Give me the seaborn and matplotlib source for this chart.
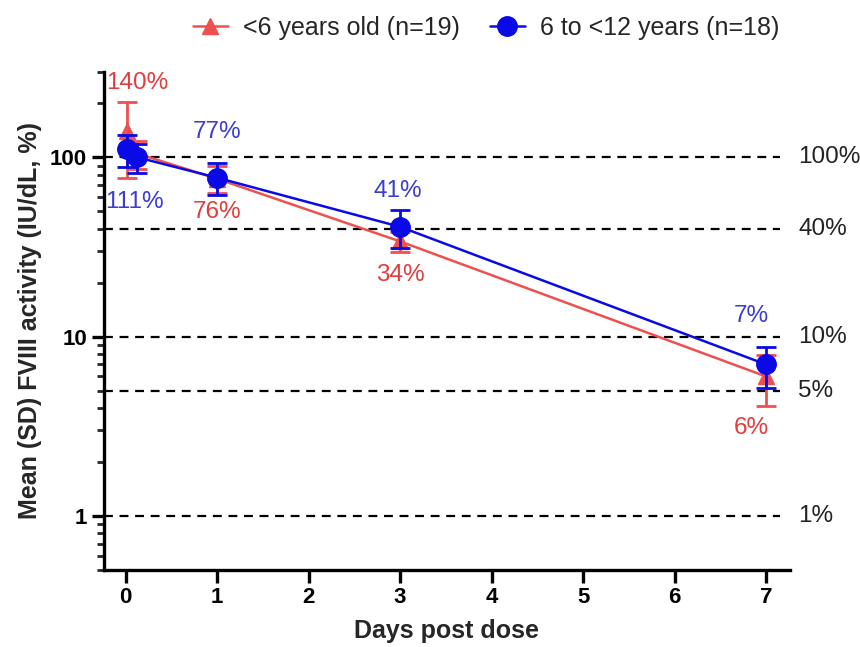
import numpy as np
import pandas as pd
import matplotlib
matplotlib.use("Agg")
import matplotlib.pyplot as plt
import matplotlib.ticker as mticker
from matplotlib.lines import Line2D
import seaborn as sns

# Sampling times (days post dose)
days = [0.02, 0.13, 1, 3, 7]

# <6 years old (n=19): mean and SD of FVIII activity (IU/dL, %)
young_mean = [140, 105, 76, 34, 6]
young_sd = [63, 19, 13, 4.5, 1.9]

# 6 to <12 years (n=18)
older_mean = [111, 100, 77, 41, 7]
older_sd = [23, 18, 15.5, 9.6, 1.8]

group_names = ["<6 years old (n=19)", "6 to <12 years (n=18)"]

# Reference activity levels drawn as dashed lines
ref_levels = [100, 40, 10, 5, 1]
ref_labels = ["100%", "40%", "10%", "5%", "1%"]

# Which points get a value label: (group index, point index)
labelled = [(0, 0), (0, 2), (0, 3), (0, 4), (1, 0), (1, 2), (1, 3), (1, 4)]

x_ticks = [0, 1, 2, 3, 4, 5, 6, 7]

RED = "#EE5050"
BLUE = "#0A0AE6"
RED_TXT = "#E23C3C"
BLUE_TXT = "#3C3CD2"

sns.set_theme(style="ticks")
plt.rcParams["font.family"] = ["Liberation Sans", "DejaVu Sans"]

df = pd.DataFrame({
    "day": days * 2,
    "activity": young_mean + older_mean,
    "sd": young_sd + older_sd,
    "group": [group_names[0]] * len(days) + [group_names[1]] * len(days),
})

fig = plt.figure(figsize=(8.6, 6.47), dpi=100)
ax = fig.add_axes([0.1205, 0.119, 0.798, 0.770])

ax.set_yscale("log")
ax.set_ylim(0.5, 300)
ax.set_xlim(-0.24, 7.26)

# dashed reference lines
ax.hlines(ref_levels, -0.24, 7.15, colors="black", linestyles=(0, (4, 3)),
          linewidth=1.6, zorder=1)
for lvl, lab in zip(ref_levels, ref_labels):
    ax.text(7.35, lvl, lab, fontsize=17.5, color="#222222", va="center",
            ha="left", clip_on=False)

styles = {
    group_names[0]: dict(color=RED, marker="^", ms=12, z=3),
    group_names[1]: dict(color=BLUE, marker="o", ms=14, z=5),
}

for name in group_names:
    sub = df[df["group"] == name]
    st = styles[name]
    sns.lineplot(data=sub, x="day", y="activity", ax=ax, color=st["color"],
                 linewidth=1.8, zorder=st["z"], legend=False,
                 estimator=None, sort=True)
    ax.errorbar(sub["day"], sub["activity"], yerr=sub["sd"], fmt="none",
                ecolor=st["color"], elinewidth=2.0, capsize=7, capthick=2.0,
                zorder=st["z"])
    ax.plot(sub["day"], sub["activity"], linestyle="none", marker=st["marker"],
            ms=st["ms"], color=st["color"], mec=st["color"], zorder=st["z"] + 0.5)

# value labels (offsets in points from the marker)
offsets = {
    (0, 0): (7, 35), (0, 2): (0, -24), (0, 3): (0, -24), (0, 4): (-11, -37),
    (1, 0): (5, -38), (1, 2): (0, 33), (1, 3): (-2, 26), (1, 4): (-11, 35),
}
for g, i in labelled:
    means = young_mean if g == 0 else older_mean
    col = RED_TXT if g == 0 else BLUE_TXT
    ax.annotate(f"{means[i]}%", (days[i], means[i]), xytext=offsets[(g, i)],
                textcoords="offset points", ha="center", va="center",
                fontsize=17.5, color=col, zorder=7, annotation_clip=False)

# axes styling
sns.despine(ax=ax)
for side in ["left", "bottom"]:
    ax.spines[side].set_linewidth(2.4)
    ax.spines[side].set_color("black")

ax.yaxis.set_major_locator(mticker.FixedLocator([1, 10, 100]))
ax.yaxis.set_major_formatter(mticker.FixedFormatter(["1", "10", "100"]))
ax.yaxis.set_minor_locator(mticker.LogLocator(base=10, subs=np.arange(2, 10)))
ax.yaxis.set_minor_formatter(mticker.NullFormatter())
ax.set_xticks(x_ticks)
ax.set_xticklabels([str(t) for t in x_ticks])

ax.tick_params(axis="both", which="major", direction="out", length=9, width=2.4,
               labelsize=16, pad=3, colors="black")
ax.tick_params(axis="y", which="minor", direction="out", length=5, width=2.0)
for lab in ax.get_xticklabels() + ax.get_yticklabels():
    lab.set_fontweight("bold")

ax.set_xlabel("Days post dose", fontsize=18, fontweight="bold", labelpad=8)
ax.set_ylabel("Mean (SD) FVIII activity (IU/dL, %)", fontsize=18,
              fontweight="bold", labelpad=6)

handles = [
    Line2D([], [], color=RED, marker="^", ms=12, linewidth=1.8),
    Line2D([], [], color=BLUE, marker="o", ms=14, linewidth=1.8),
]
fig.legend(handles, group_names, loc="center", bbox_to_anchor=(0.565, 0.957),
           ncol=2, frameon=False, fontsize=18, handlelength=1.4,
           columnspacing=1.2, handletextpad=0.6)

fig.savefig("out.png", dpi=100, facecolor="white")
